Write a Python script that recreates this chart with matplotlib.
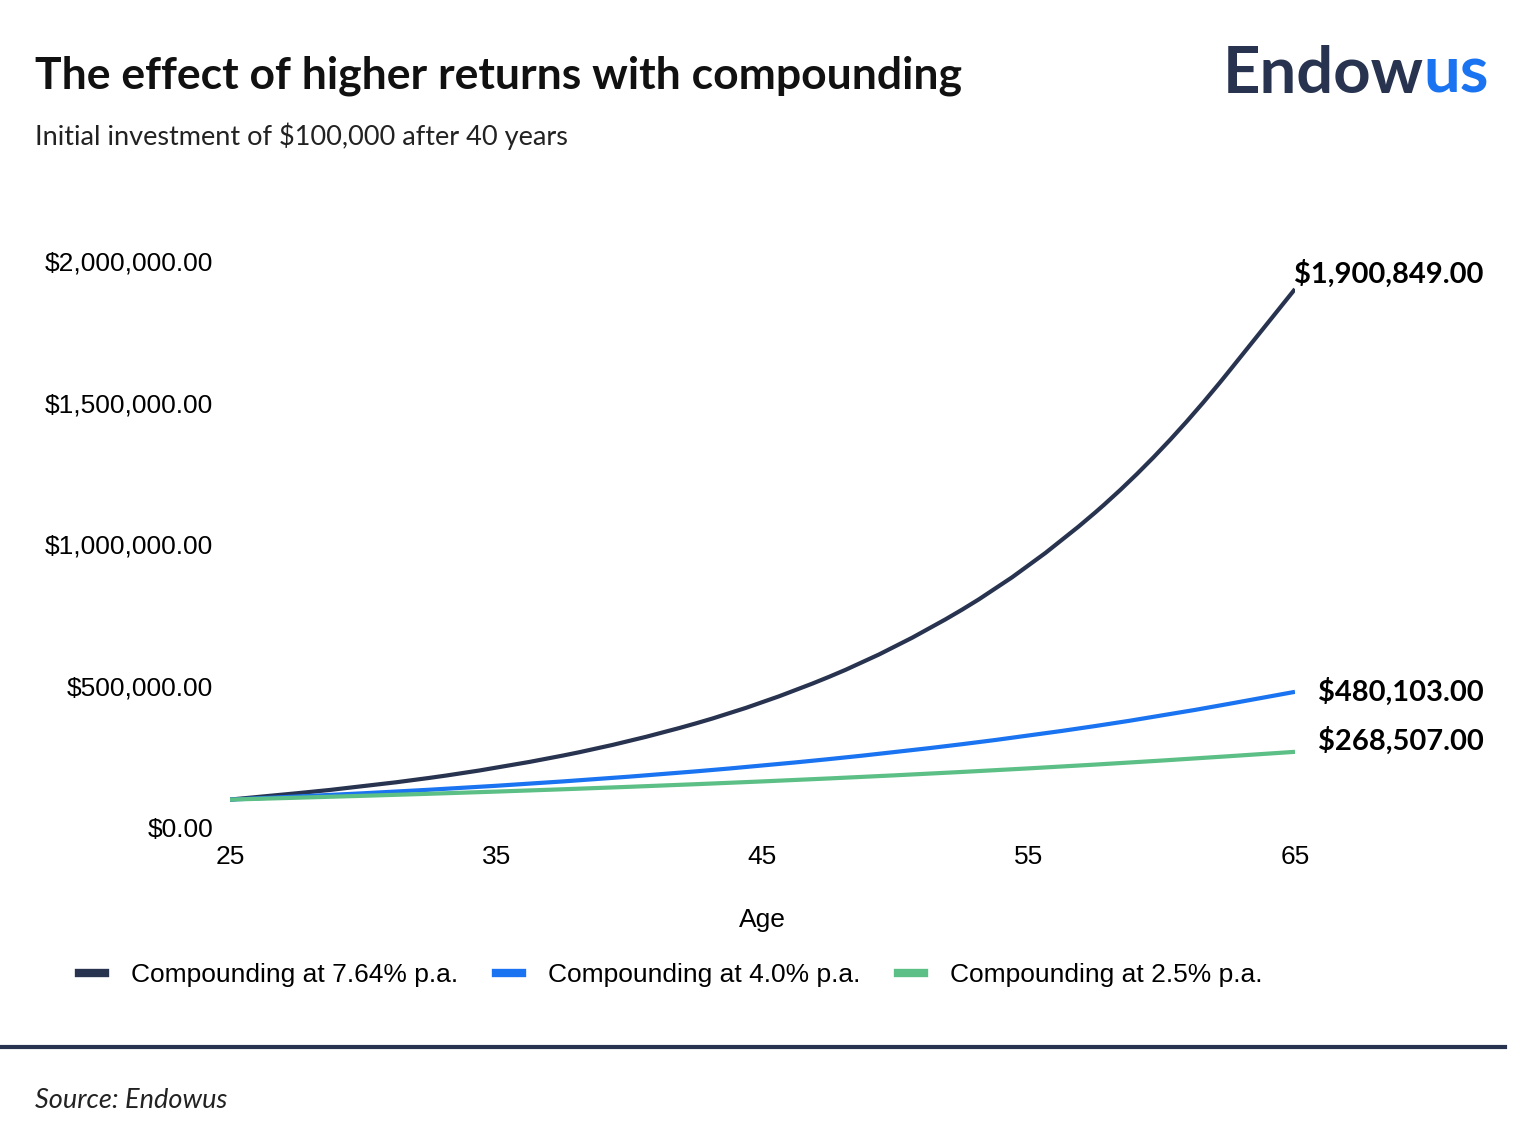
import matplotlib
matplotlib.use("Agg")
import matplotlib.pyplot as plt
from matplotlib.lines import Line2D
from matplotlib.path import Path
from matplotlib.patches import PathPatch

ages = [25, 30, 35, 40, 45, 50, 55, 60, 65]
s_764 = [100000, 144500, 208800, 301700, 436000, 630000, 910400, 1315500, 1900849]
s_40 = [100000, 121665, 148024, 180094, 219112, 266584, 324340, 394609, 480103]
s_25 = [100000, 113141, 128008, 144830, 163862, 185394, 209757, 237321, 268507]
labels = ["Compounding at 7.64% p.a.", "Compounding at 4.0% p.a.", "Compounding at 2.5% p.a."]
end_labels = ["$1,900,849.00", "$480,103.00", "$268,507.00"]
colors = ["#283350", "#1a73f0", "#5cbf85"]
yticks = [0, 500000, 1000000, 1500000, 2000000]
xticks = [25, 35, 45, 55, 65]


def smooth_path(xs, ys):
    # quadratic Bezier through segment midpoints (drawing style only)
    pts = list(zip(xs, ys))
    verts = [pts[0]]
    codes = [Path.MOVETO]
    mids = [((pts[i][0] + pts[i + 1][0]) / 2, (pts[i][1] + pts[i + 1][1]) / 2) for i in range(len(pts) - 1)]
    verts.append(mids[0]); codes.append(Path.LINETO)
    for i in range(1, len(pts) - 1):
        verts += [pts[i], mids[i]]
        codes += [Path.CURVE3, Path.CURVE3]
    verts.append(pts[-1]); codes.append(Path.LINETO)
    return Path(verts, codes)


fig = plt.figure(figsize=(15.28, 11.42), dpi=100)
ax = fig.add_axes([0.1505, 0.275, 0.697, 0.4965])
for s, c in zip([s_764, s_40, s_25], colors):
    ax.add_patch(PathPatch(smooth_path(ages, s), fill=False, edgecolor=c, lw=3, capstyle="butt"))
ax.set_xlim(25, 65)
ax.set_ylim(0, 2000000)
ax.set_yticks(yticks)
ax.set_yticklabels([f"${v:,.2f}" for v in yticks], fontsize=19, family="Liberation Sans")
ax.set_xticks(xticks)
ax.set_xticklabels([str(x) for x in xticks], fontsize=19, family="Liberation Sans")
ax.tick_params(length=0, pad=12)
for sp in ax.spines.values():
    sp.set_visible(False)
ax.set_xlabel("Age", fontsize=19, family="Liberation Sans", labelpad=28)

offs = [55000, 0, 40000]
for s, t, o in zip([s_764, s_40, s_25], end_labels, offs):
    fig.text(0.971, ax.transData.transform((65, s[-1] + o))[1] / fig.bbox.height, t,
             ha="right", va="center", fontsize=21, fontweight="bold", family="Lato")

handles = [Line2D([], [], color=c, lw=6) for c in colors]
fig.legend(handles, labels, loc="center", bbox_to_anchor=(0.439, 0.146), ncol=3, frameon=False,
           prop={"family": "Liberation Sans", "size": 19}, handlelength=1.0, columnspacing=1.4, handletextpad=1.0)

fig.text(0.023, 0.934, "The effect of higher returns with compounding", fontsize=32, fontweight="bold",
         family="Lato", color="#111111", va="center")
fig.text(0.023, 0.881, "Initial investment of $100,000 after 40 years", fontsize=19.5, family="Lato",
         color="#222222", va="center")
t1 = fig.text(0.80, 0.935, "Endow", fontsize=47, fontweight="bold", family="Lato", color="#283350", va="center")
fig.canvas.draw()
bb = t1.get_window_extent()
fig.text(bb.x1 / fig.bbox.width, 0.935, "us", fontsize=47, fontweight="bold", family="Lato",
         color="#1a73f0", va="center")
fig.add_artist(Line2D([0, 0.985], [0.083, 0.083], color="#283350", lw=3, transform=fig.transFigure))
fig.text(0.023, 0.036, "Source: Endowus", fontsize=19.5, style="italic", family="Lato", color="#222222", va="center")
fig.savefig("out.png", dpi=100, facecolor="white")
